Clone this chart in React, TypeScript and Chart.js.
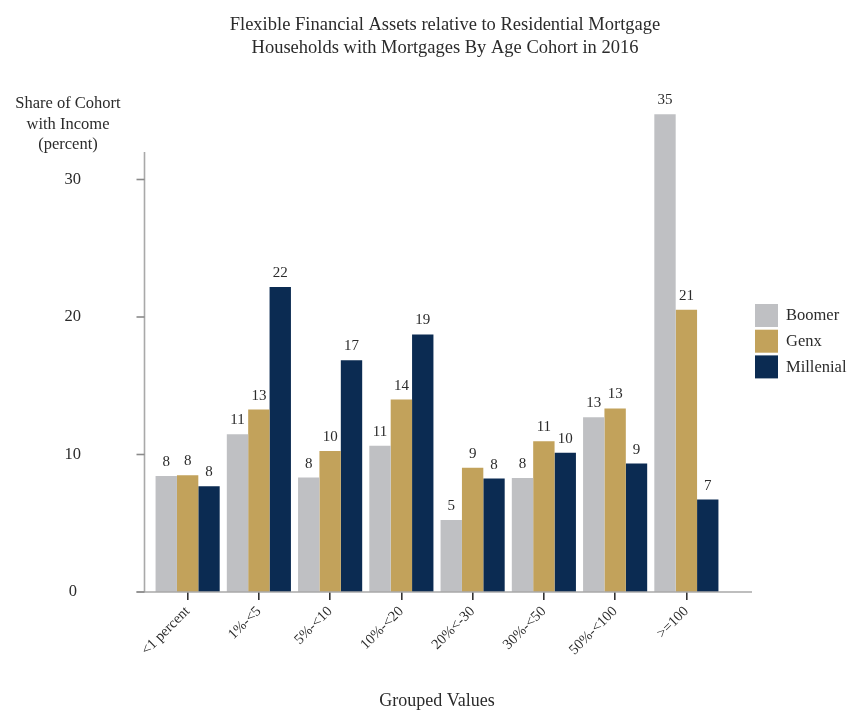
import React, { useEffect, useRef } from "react";
import { Chart, registerables } from "chart.js";

Chart.register(...registerables);

const categories = ["<1 percent", "1%-<5", "5%-<10", "10%-<20", "20%<-30", "30%-<50", "50%-<100", ">=100"];
const boomer = [8.44, 11.48, 8.32, 10.63, 5.24, 8.3, 12.71, 34.74];
const genx = [8.49, 13.27, 10.26, 14.0, 9.03, 10.97, 13.35, 20.52];
const millenial = [7.69, 22.18, 16.86, 18.73, 8.25, 10.12, 9.34, 6.72];
const seriesNames = ["Boomer", "Genx", "Millenial"];
const seriesColors = ["#bfc0c3", "#c2a25b", "#0b2b52"];
const yTickValues = [0, 10, 20, 30];
const yAxisTop = 32;
const titleLines = [
  "Flexible Financial Assets relative to Residential Mortgage",
  "Households with Mortgages By Age Cohort in 2016",
];
const yCaptionLines = ["Share of Cohort", "with Income", "(percent)"];
const xTitle = "Grouped Values";

const FONT = "'Liberation Serif', 'Times New Roman', serif";
const TEXT = "#2b2b2b";

const decorPlugin = {
  id: "decor",
  afterDatasetsDraw(chart: any) {
    const ctx = chart.ctx;
    const area = chart.chartArea;
    const y = chart.scales.y;
    ctx.save();
    // value labels
    ctx.fillStyle = TEXT;
    ctx.font = `15px ${FONT}`;
    ctx.textAlign = "center";
    ctx.textBaseline = "alphabetic";
    chart.data.datasets.forEach((ds: any, di: number) => {
      const meta = chart.getDatasetMeta(di);
      meta.data.forEach((el: any, i: number) => {
        ctx.fillText(String(Math.round(ds.data[i])), el.x, el.y - 10);
      });
    });
    // axis lines
    const axisX = area.left - 7.5;
    const baseY = y.getPixelForValue(0);
    ctx.strokeStyle = "#a9a9a9";
    ctx.lineWidth = 1.6;
    ctx.beginPath();
    ctx.moveTo(axisX, y.getPixelForValue(yAxisTop));
    ctx.lineTo(axisX, baseY);
    ctx.stroke();
    ctx.beginPath();
    ctx.moveTo(axisX - 8, baseY);
    ctx.lineTo(area.right + 30, baseY);
    ctx.stroke();
    ctx.strokeStyle = "#8a8a8a";
    yTickValues.forEach((v) => {
      const py = y.getPixelForValue(v);
      ctx.beginPath();
      ctx.moveTo(axisX - 8, py);
      ctx.lineTo(axisX, py);
      ctx.stroke();
    });
    // title
    ctx.fillStyle = TEXT;
    ctx.font = `18.5px ${FONT}`;
    ctx.textAlign = "center";
    ctx.fillText(titleLines[0], 445, 30);
    ctx.fillText(titleLines[1], 445, 53);
    // y caption
    ctx.font = `16.5px ${FONT}`;
    yCaptionLines.forEach((t, i) => ctx.fillText(t, 68, 108 + i * 20.5));
    // legend
    ctx.textAlign = "left";
    ctx.textBaseline = "middle";
    ctx.font = `16.5px ${FONT}`;
    chart.data.datasets.forEach((ds: any, i: number) => {
      const by = 304 + i * 25.7;
      ctx.fillStyle = ds.backgroundColor;
      ctx.fillRect(755, by, 23, 23);
      ctx.fillStyle = TEXT;
      ctx.fillText(ds.label, 786, by + 12);
    });
    ctx.restore();
  },
};

export default function App() {
  const ref = useRef<HTMLCanvasElement>(null);
  useEffect(() => {
    if (!ref.current) return;
    const chart = new Chart(ref.current, {
      type: "bar",
      data: {
        labels: categories,
        datasets: [boomer, genx, millenial].map((d, i) => ({
          label: seriesNames[i],
          data: d,
          backgroundColor: seriesColors[i],
          borderWidth: 0,
          categoryPercentage: 0.9,
          barPercentage: 1.0,
          clip: false as any,
        })),
      },
      options: {
        animation: false,
        responsive: false,
        layout: { padding: { left: 0, top: 97, right: 128, bottom: 0 } },
        plugins: { legend: { display: false }, tooltip: { enabled: false }, title: { display: false } },
        scales: {
          x: {
            type: "category",
            offset: true,
            border: { display: false },
            grid: { display: true, drawOnChartArea: false, drawTicks: true, tickLength: 8, color: "#333", lineWidth: 1.6, offset: false },
            ticks: { minRotation: 45, maxRotation: 45, color: TEXT, padding: 3, font: { family: FONT, size: 14.5 } },
            title: { display: true, text: xTitle, color: TEXT, font: { family: FONT, size: 18 }, padding: { top: 0, bottom: 0 } },
            afterFit: (s: any) => { s.height = 120; },
          },
          y: {
            min: 0,
            max: 36,
            border: { display: false },
            grid: { display: false, drawTicks: false },
            afterBuildTicks: (s: any) => { s.ticks = yTickValues.map((v) => ({ value: v })); },
            ticks: { crossAlign: "center", padding: 71, color: TEXT, font: { family: FONT, size: 16.5 } },
            afterFit: (s: any) => { s.width = 152; },
          },
        },
      },
      plugins: [decorPlugin],
    });
    return () => chart.destroy();
  }, []);
  return (
    <div style={{ position: "absolute", left: 0, top: 0, width: 850, height: 712, background: "#fff" }}>
      <canvas ref={ref} width={850} height={712} style={{ display: "block" }} />
    </div>
  );
}
